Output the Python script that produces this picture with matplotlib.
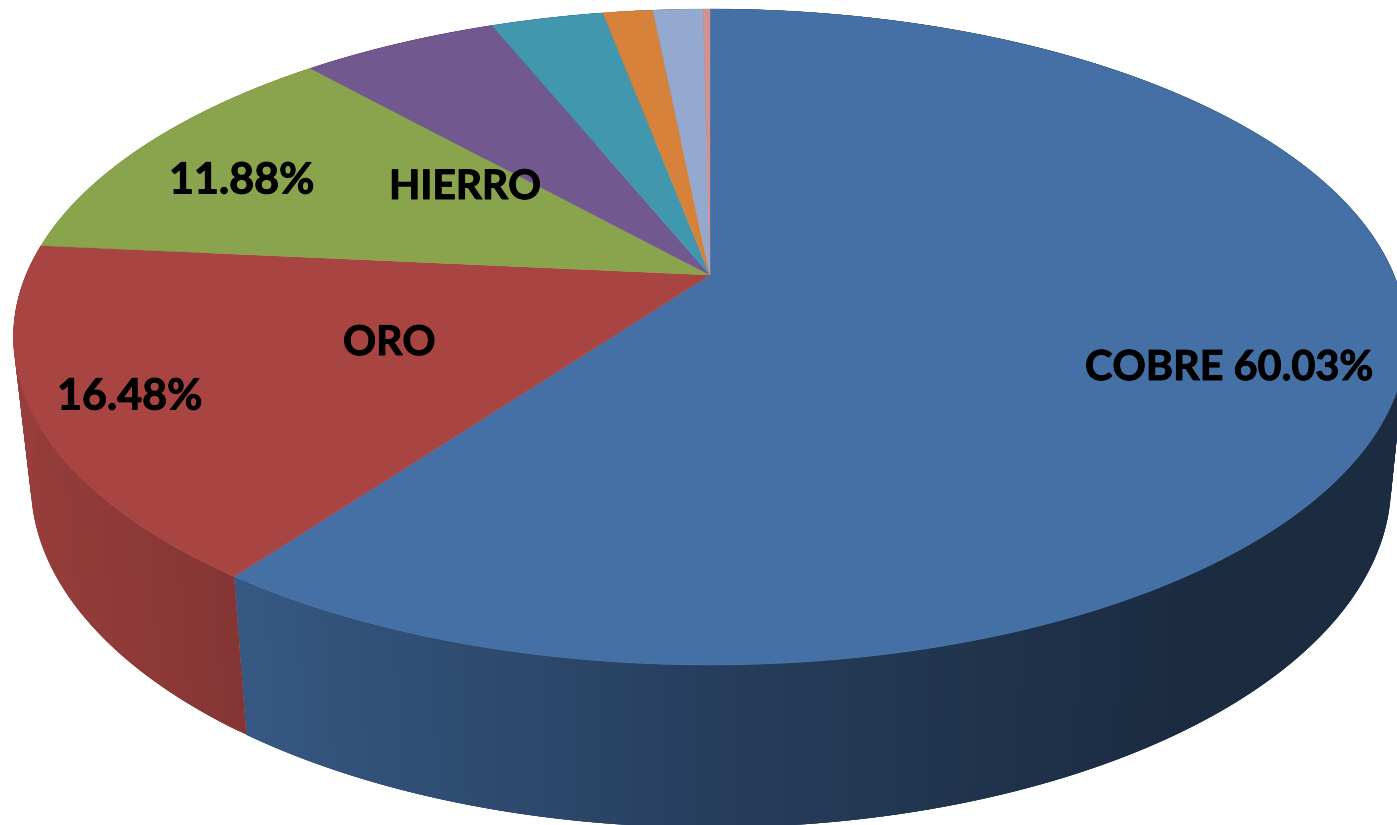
import numpy as np
import matplotlib
matplotlib.use('Agg')
import matplotlib.pyplot as plt
import matplotlib.patheffects as pe
from matplotlib.collections import PolyCollection

# share of each slice, clockwise from 12 o'clock
minerals = ['COBRE', 'ORO', 'HIERRO', 'PLOMO', 'ZINC', 'PLATA', 'ESTANO', 'OTROS']
shares = [60.03, 16.48, 11.88, 5.50, 3.14, 1.39, 1.39, 0.19]
colors = ['#4570A6', '#A84442', '#89A44C', '#71588F', '#4197AE', '#D7823B', '#93A9CF', '#D09392']

label_texts = ['COBRE 60.03%', '16.48%', 'ORO', '11.88%', 'HIERRO']
label_x = [1085, 57, 343, 169, 389]
label_y = [368.5, 396.5, 343.5, 180.5, 187.5]
label_size = [29.8, 31, 29.5, 31, 29.3]

# perspective: cx, cy, a, b of the top rim and of the bottom rim
k = 0.189
top_rim = (710, 275, 684, 316.3)
low_rim = (711, 418.5, 667.8, 331.7)

# how dark the side gets going left to right
shade_x = [13, 250, 700, 1000, 1200]
shade_f = [0.90, 0.78, 0.56, 0.45, 0.39]


def project(theta, rim):
    cx, cy, a, b = rim
    x = np.sin(theta)
    y = np.cos(theta)
    d = 1 + k * y
    return cx + a * x / d, cy - b * y / d


fig = plt.figure(figsize=(13.97, 8.25), dpi=100)
ax = fig.add_axes([0, 0, 1, 1])
ax.set_xlim(0, 1397)
ax.set_ylim(825, 0)
ax.axis('off')

edges = np.radians(np.cumsum([0] + shares) * 3.6)

# sides first, the top faces cover whatever is behind
for i in range(len(shares)):
    th = np.linspace(edges[i], edges[i + 1], max(3, int(shares[i] * 6)))
    x1, y1 = project(th, top_rim)
    x2, y2 = project(th, low_rim)
    quads = []
    cols = []
    base = np.array(matplotlib.colors.to_rgb(colors[i]))
    for j in range(len(th) - 1):
        # each quad runs under the next ones so no seams show
        e = min(j + 3, len(th) - 1)
        top = list(zip(x1[j:e + 1], y1[j:e + 1]))
        low = list(zip(x2[j:e + 1], y2[j:e + 1]))
        quads.append(top + low[::-1])
        cols.append(base * np.interp((x1[j] + x1[j + 1]) / 2, shade_x, shade_f))
    ax.add_collection(PolyCollection(quads, facecolors=cols, edgecolors='none', linewidths=0))

for i in range(len(shares)):
    th = np.linspace(edges[i], edges[i + 1], max(3, int(shares[i] * 12)))
    x1, y1 = project(th, top_rim)
    ax.fill(np.r_[top_rim[0], x1], np.r_[top_rim[1], y1], color=colors[i], lw=0.3)

for txt, x, y, s in zip(label_texts, label_x, label_y, label_size):
    ax.text(x, y, txt, ha='left', va='center', fontsize=s, fontweight='bold', family='Lato', color='black',
            path_effects=[pe.withStroke(linewidth=0.7, foreground='black')])

fig.savefig('out.png', dpi=100)
